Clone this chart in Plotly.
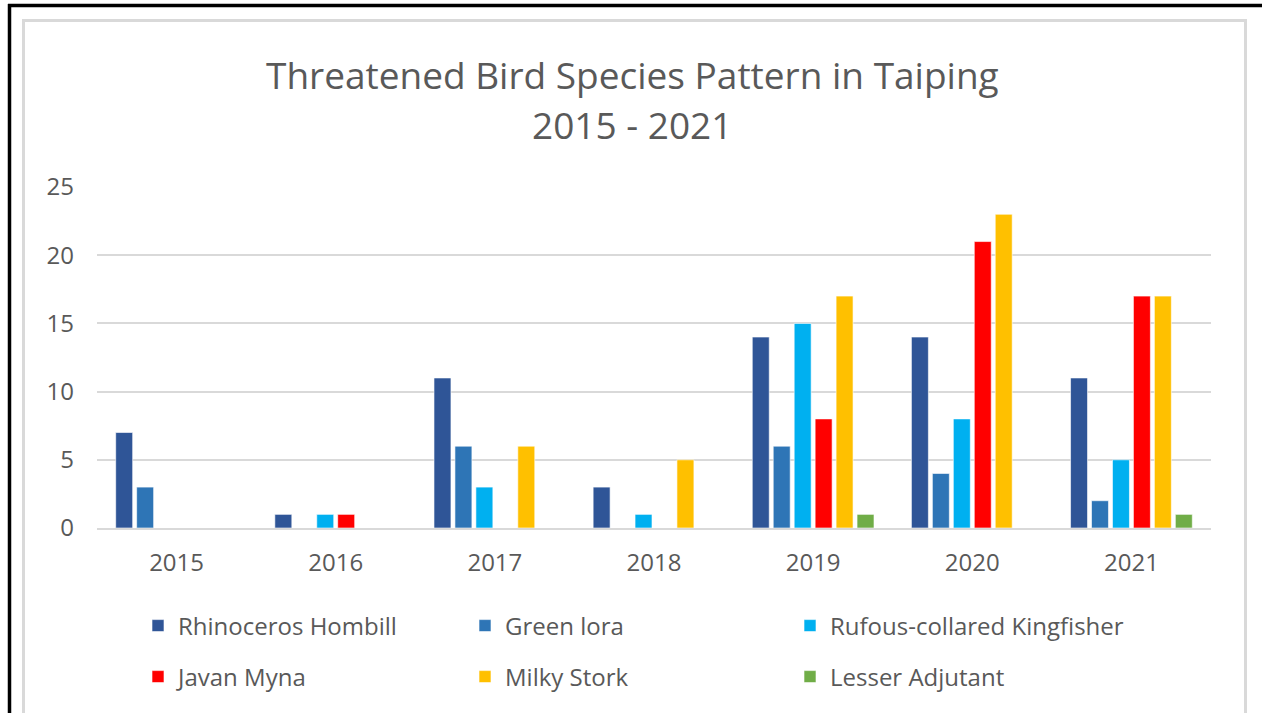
import plotly.graph_objects as go

years = ["2015", "2016", "2017", "2018", "2019", "2020", "2021"]
rhinoceros_hombill = [7, 1, 11, 3, 14, 14, 11]
green_iora = [3, 0, 6, 0, 6, 4, 2]
rufous_kingfisher = [0, 1, 3, 1, 15, 8, 5]
javan_myna = [0, 1, 0, 0, 8, 21, 17]
milky_stork = [0, 0, 6, 5, 17, 23, 17]
lesser_adjutant = [0, 0, 0, 0, 1, 0, 1]

series_names = ["Rhinoceros Hombill", "Green lora", "Rufous-collared Kingfisher",
                "Javan Myna", "Milky Stork", "Lesser Adjutant"]
series_values = [rhinoceros_hombill, green_iora, rufous_kingfisher,
                 javan_myna, milky_stork, lesser_adjutant]
colors = ["#2F5597", "#2E75B6", "#00B0F0", "#FF0000", "#FFC000", "#70AD47"]
y_ticks = [0, 5, 10, 15, 20, 25]

W, H = 1262, 713
ML, MR, MT, MB = 97, 51, 187, 185
PW, PH = W - ML - MR, H - MT - MB

def px(x):
    return (x - ML) / PW

def py(y):
    return 1 - (y - MT) / PH

FONT = "Open Sans"
TXT = "#595959"

legend_keys = ["legend", "legend2", "legend3", "legend4", "legend5", "legend6"]
legend_text_x = [178, 505, 830, 178, 505, 830]
legend_row_y = [626, 626, 626, 677, 677, 677]

fig = go.Figure()
for name, vals, col, lk in zip(series_names, series_values, colors, legend_keys):
    fig.add_trace(go.Bar(
        x=years, y=vals, name=name, showlegend=True,
        marker=dict(color=col, line=dict(color="rgba(255,255,255,0.6)", width=1)),
        legend=lk,
    ))

shapes = [
    dict(type="rect", xref="paper", yref="paper",
         x0=px(23.5), x1=px(1245.5), y0=py(730), y1=py(20.5),
         line=dict(color="#D9D9D9", width=3), layer="below"),
    dict(type="line", xref="paper", yref="paper",
         x0=px(8), x1=px(1270), y0=py(5.5), y1=py(5.5),
         line=dict(color="black", width=3.5)),
    dict(type="line", xref="paper", yref="paper",
         x0=px(9.5), x1=px(9.5), y0=py(4), y1=py(730),
         line=dict(color="black", width=3.5)),
]

annotations = [
    dict(text="Threatened Bird Species Pattern in Taiping", xref="paper", yref="paper",
         x=px(632), y=py(74), xanchor="center", yanchor="middle", showarrow=False,
         font=dict(family=FONT, size=37, color=TXT)),
    dict(text="2015 - 2021", xref="paper", yref="paper",
         x=px(632), y=py(125), xanchor="center", yanchor="middle", showarrow=False,
         font=dict(family=FONT, size=37, color=TXT)),
]

legends = {}
for lk, tx, ty in zip(legend_keys, legend_text_x, legend_row_y):
    legends[lk] = dict(orientation="h", xanchor="left", yanchor="middle",
                       x=px(tx - 40), y=py(ty),
                       font=dict(family=FONT, size=24, color=TXT),
                       bgcolor="rgba(0,0,0,0)", borderwidth=0, itemclick=False,
                       itemdoubleclick=False)

fig.update_layout(
    width=W, height=H, showlegend=True,
    margin=dict(l=ML, r=MR, t=MT, b=MB, autoexpand=False),
    paper_bgcolor="white", plot_bgcolor="white",
    barmode="group", bargap=0.21, bargroupgap=0.19,
    font=dict(family=FONT, color=TXT),
    shapes=shapes, annotations=annotations,
    xaxis=dict(showgrid=False, showline=True, linecolor="#D9D9D9", linewidth=1.5,
               tickfont=dict(family=FONT, size=24, color=TXT), ticks="",
               ticklabelstandoff=12),
    yaxis=dict(range=[0, 25], tickvals=y_ticks, showgrid=True, gridcolor="#D9D9D9",
               gridwidth=1.5, zeroline=False, showline=False,
               tickfont=dict(family=FONT, size=24, color=TXT), ticks="",
               ticklabelstandoff=22),
    **legends,
)

fig.write_html("out.html", config={"displayModeBar": False},
               post_script="document.body.style.margin='0';document.body.style.overflow='hidden';")
